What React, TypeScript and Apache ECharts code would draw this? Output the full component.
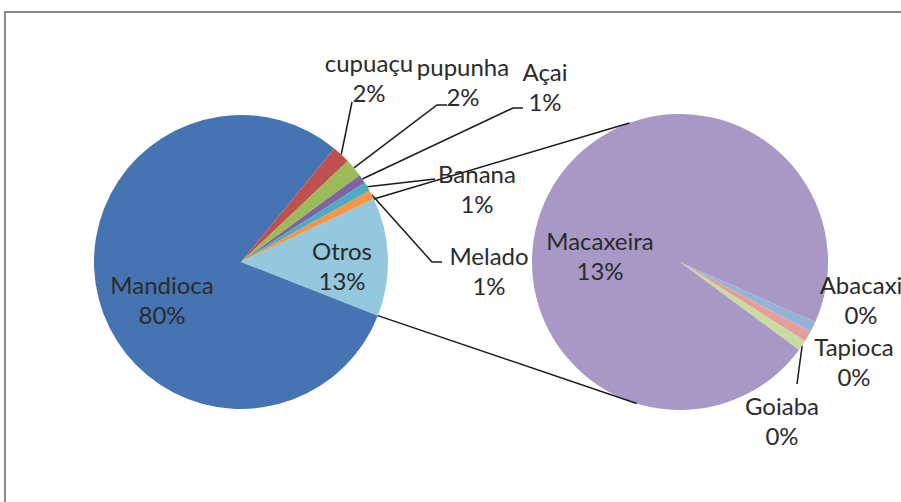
import React, { useEffect, useRef } from 'react';
import * as echarts from 'echarts';

// ---- data ----
const mainCategories = ['Mandioca', 'cupuaçu', 'pupunha', 'Açai', 'Banana', 'Melado'];
const mainValues = [80, 2, 2, 1, 1, 1];
const otherName = 'Otros';
const subCategories = ['Abacaxi', 'Tapioca', 'Goiaba', 'Macaxeira'];
const subValues = [0.15, 0.15, 0.15, 12.55];

// ---- styles ----
const mainColors = ['#4673B1', '#C0504D', '#9BBB59', '#8064A2', '#4BACC6', '#F79646'];
const otherColor = '#93C8DE';
const subColors = ['#95B3D7', '#E39E9C', '#C9DC9F', '#A798C6'];

const MAIN = { cx: 241, cy: 262, r: 147, start: 25.4 };
const SUB = { cx: 680, cy: 262, r: 148, start: -24 };
const CONNECT_SUB_ANGLES = [110, -107];

// label block centres and leader end points (layout)
const LABEL_POS: Record<string, [number, number]> = {
  Mandioca: [162, 299],
  Otros: [342, 265],
  'cupuaçu': [369, 77],
  pupunha: [463, 81],
  'Açai': [545, 86],
  Banana: [477, 188],
  Melado: [489, 270],
  Macaxeira: [600, 255],
  Abacaxi: [861, 299],
  Tapioca: [854, 361],
  Goiaba: [782, 420],
};
const LEADER_END: Record<string, number[][]> = {
  'cupuaçu': [[352, 102]],
  pupunha: [[437, 105], [447, 105]],
  'Açai': [[513, 108], [523, 108]],
  Banana: [[435, 179]],
  Melado: [[432, 262], [442, 262]],
  Goiaba: [[797, 384]],
};

const sum = (a: number[]) => a.reduce((s, v) => s + v, 0);

function midAngles(values: number[], start: number) {
  const total = sum(values);
  let a = start;
  return values.map((v) => {
    const span = (v / total) * 360;
    const mid = a - span / 2;
    a -= span;
    return mid;
  });
}
const pt = (c: { cx: number; cy: number; r: number }, deg: number) => {
  const rad = (deg * Math.PI) / 180;
  return [c.cx + c.r * Math.cos(rad), c.cy - c.r * Math.sin(rad)];
};

export default function App() {
  const ref = useRef<HTMLDivElement>(null);
  useEffect(() => {
    if (!ref.current) return;
    const chart = echarts.init(ref.current, undefined, { renderer: 'svg' });
    const otherValue = sum(subValues);
    const mainNames = [otherName, ...mainCategories];
    const mainVals = [otherValue, ...mainValues];
    const mainCols = [otherColor, ...mainColors];
    const grandTotal = sum(mainVals);
    const mainMids = midAngles(mainVals, MAIN.start);
    const subMids = midAngles(subValues, SUB.start);

    const fmt = (p: any) => `${p.name}\n${Math.round((p.value / grandTotal) * 100)}%`;

    const mkData = (names: string[], vals: number[], cols: string[]) =>
      names.map((n, i) => ({
        name: n,
        value: vals[i],
        itemStyle: { color: cols[i] },
        labelLine: { show: !!LEADER_END[n] },
      }));

    const layoutFn = (mids: number[], geo: any, names: string[]) => (params: any) => {
      const name = names[params.dataIndex];
      const pos = LABEL_POS[name];
      const out: any = { x: pos[0], y: pos[1], align: 'center', verticalAlign: 'middle', hideOverlap: false, moveOverlap: false };
      if (LEADER_END[name]) {
        out.labelLinePoints = [pt(geo, mids[params.dataIndex]), ...LEADER_END[name]];
      }
      return out;
    };

    const otherSpan = (otherValue / grandTotal) * 360;
    const upperMain = pt(MAIN, MAIN.start);
    const lowerMain = pt(MAIN, MAIN.start - otherSpan);
    const upperSub = pt(SUB, CONNECT_SUB_ANGLES[0]);
    const lowerSub = pt(SUB, CONNECT_SUB_ANGLES[1]);

    const labelStyle = {
      show: true,
      position: 'outside',
      formatter: fmt,
      fontFamily: 'Lato',
      fontSize: 24,
      lineHeight: 30,
      color: '#2b2b2b',
      align: 'center',
    };

    chart.setOption({
      animation: false,
      backgroundColor: '#ffffff',
      series: [
        {
          type: 'pie',
          center: [MAIN.cx, MAIN.cy],
          radius: MAIN.r,
          startAngle: MAIN.start,
          clockwise: true,
          avoidLabelOverlap: false,
          minShowLabelAngle: 0,
          silent: true,
          label: labelStyle,
          labelLine: { show: true, smooth: false, lineStyle: { color: '#1a1a1a', width: 1.5 } },
          labelLayout: layoutFn(mainMids, MAIN, mainNames),
          itemStyle: { borderWidth: 0 },
          data: mkData(mainNames, mainVals, mainCols),
        },
        {
          type: 'pie',
          center: [SUB.cx, SUB.cy],
          radius: SUB.r,
          startAngle: SUB.start,
          clockwise: true,
          avoidLabelOverlap: false,
          minShowLabelAngle: 0,
          silent: true,
          label: labelStyle,
          labelLine: { show: true, smooth: false, lineStyle: { color: '#1a1a1a', width: 1.5 } },
          labelLayout: layoutFn(subMids, SUB, subCategories),
          itemStyle: { borderWidth: 0 },
          data: mkData(subCategories, subValues, subColors),
        },
      ],
      graphic: [
        {
          type: 'rect',
          shape: { x: 5, y: 12, width: 920, height: 520 },
          style: { fill: 'none', stroke: '#8a8a8a', lineWidth: 2 },
          z: 0,
        },
        {
          type: 'line',
          shape: { x1: upperMain[0], y1: upperMain[1], x2: upperSub[0], y2: upperSub[1] },
          style: { stroke: '#1a1a1a', lineWidth: 1.5 },
          z: 10,
        },
        {
          type: 'line',
          shape: { x1: lowerMain[0], y1: lowerMain[1], x2: lowerSub[0], y2: lowerSub[1] },
          style: { stroke: '#1a1a1a', lineWidth: 1.5 },
          z: 10,
        },
      ],
    });
    return () => chart.dispose();
  }, []);
  return (
    <div
      ref={ref}
      style={{ position: 'fixed', left: 0, top: 0, width: 901, height: 502, background: '#fff' }}
    />
  );
}
